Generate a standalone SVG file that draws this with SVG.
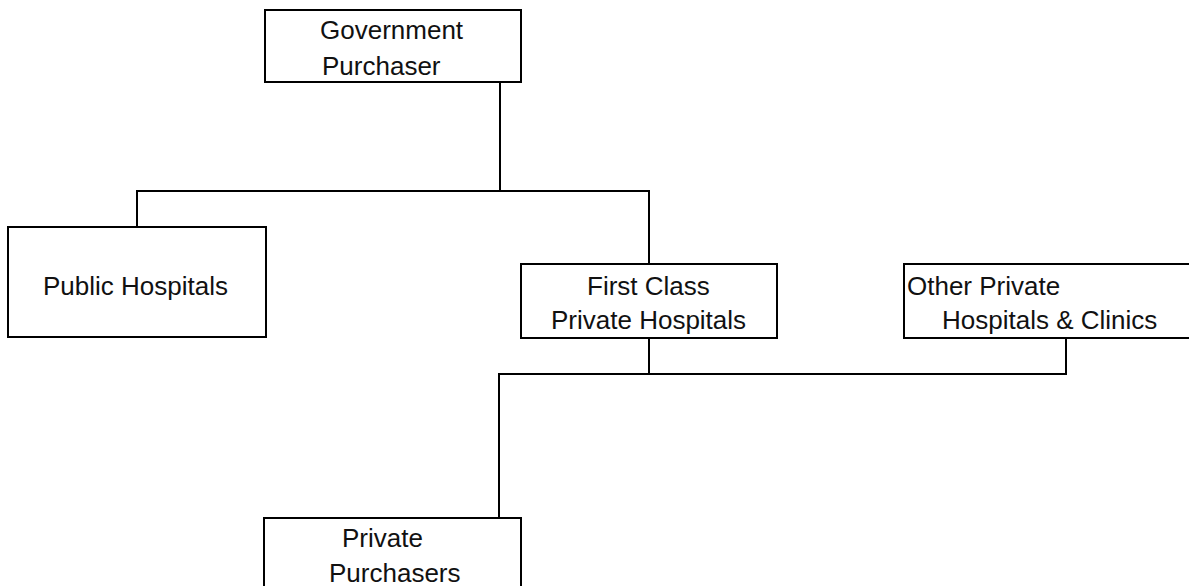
<svg xmlns="http://www.w3.org/2000/svg" width="1189" height="586" viewBox="0 0 1189 586">
<style>
.box{fill:#fff;stroke:#000;stroke-width:2}
.ln{fill:none;stroke:#000;stroke-width:2}
text{font-family:"Liberation Sans",Arial,sans-serif;font-size:26px;fill:#111}
</style>
<rect width="1189" height="586" fill="#fff"/>
<g id="connectors">
<polyline class="ln" points="500,82 500,191"/>
<polyline class="ln" points="137,227 137,191 649,191 649,264"/>
<polyline class="ln" points="649,338 649,374"/>
<polyline class="ln" points="499,518 499,374 1066,374 1066,338"/>
</g>
<g id="gov">
<rect class="box" x="265" y="10" width="256" height="72"/>
<text x="320" y="39">Government</text>
<text x="322" y="75">Purchaser</text>
</g>
<g id="public">
<rect class="box" x="8" y="227" width="258" height="110"/>
<text x="43" y="295">Public Hospitals</text>
</g>
<g id="firstclass">
<rect class="box" x="521" y="264" width="256" height="74"/>
<text x="587" y="295">First Class</text>
<text x="551" y="329">Private Hospitals</text>
</g>
<g id="otherprivate">
<rect class="box" x="904" y="264" width="300" height="74"/>
<text x="907" y="295">Other Private</text>
<text x="942" y="329">Hospitals &amp; Clinics</text>
</g>
<g id="privpurch">
<rect class="box" x="264" y="518" width="257" height="80"/>
<text x="342" y="547">Private</text>
<text x="329" y="582">Purchasers</text>
</g>
</svg>
